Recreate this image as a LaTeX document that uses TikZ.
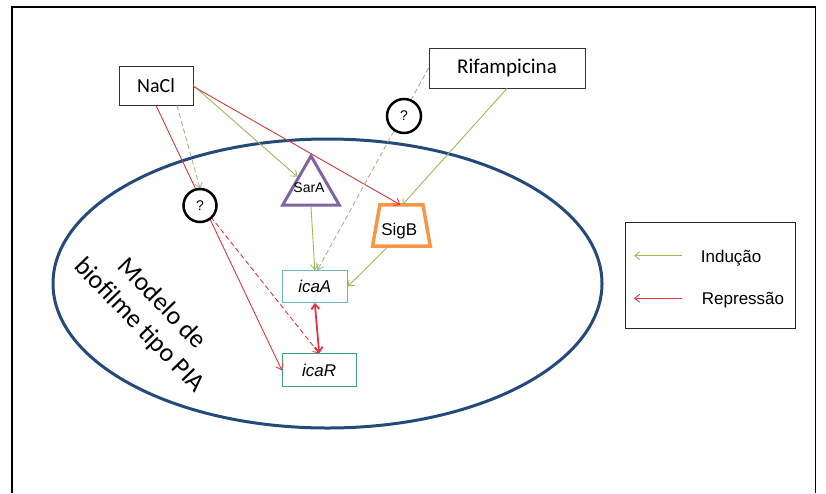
\documentclass[tikz,border=0pt]{standalone}
\usepackage{fontspec}
\setmainfont{Liberation Sans}
\newfontfamily\calfont{Carlito}
\usetikzlibrary{arrows.meta,shapes.geometric}
\definecolor{indc}{HTML}{9BBB59}
\definecolor{repc}{HTML}{E0353F}
\definecolor{cellc}{HTML}{254A7A}
\definecolor{sarc}{HTML}{8064A2}
\definecolor{sigc}{HTML}{F79646}
\definecolor{icaac}{HTML}{6DB5C0}
\definecolor{icarc}{HTML}{3FA27C}
\definecolor{dashg}{HTML}{A6B48E}
\begin{document}
\begin{tikzpicture}[x=1pt,y=-1pt,
  tipend/.style={-{Straight Barb[length=5pt,width=8pt]}},
  ind/.style={tipend, draw=indc, line width=0.9pt},
  rep/.style={tipend, draw=repc, line width=0.9pt},
  dashind/.style={tipend, draw=dashg, line width=0.9pt, dash pattern=on 5pt off 3pt},
  dashrep/.style={tipend, draw=repc, line width=0.9pt, dash pattern=on 5pt off 3pt},
  txtbox/.style={draw=black!80, line width=0.9pt, fill=white, inner sep=0pt},
  genebox/.style={line width=1pt, inner sep=0pt, font=\itshape\fontsize{17}{20}\selectfont},
  qmark/.style={circle, draw=black, line width=2.5pt, fill=white, inner sep=0pt, font=\fontsize{14}{16}\selectfont},
  plain/.style={inner sep=0pt}
]
\useasboundingbox (0,0) rectangle (826,493);
\draw[line width=1.8pt] (11.8,493) -- (11.8,6.7) -- (815.5,6.7) -- (815.5,493);

% cell
\node[ellipse, draw=cellc, line width=3pt, minimum width=549pt, minimum height=289pt, inner sep=0pt] (cell) at (327.5,283.5) {};
\node[rotate=-46, align=center, inner sep=0pt, font=\calfont\fontsize{26}{31}\selectfont] (modelo) at (150.3,315) {Modelo de\\biofilme tipo PIA};

% nodes
\node[txtbox, minimum width=74pt, minimum height=39pt, font=\calfont\fontsize{20}{24}\selectfont] (nacl) at (156,85.5) {NaCl};
\node[txtbox, minimum width=156pt, minimum height=40pt, font=\calfont\fontsize{21}{25}\selectfont] (rif) at (507,68) {Rifampicina};
\node[regular polygon, regular polygon sides=3, minimum size=65.4pt, inner sep=0pt, draw=sarc, line width=3pt] (sara) at (311,188.7) {};
\node[plain, font=\fontsize{14}{16}\selectfont] (saratext) at (309,188) {SarA};
\node[plain, minimum width=57.3pt, minimum height=41pt] (sigb) at (401.4,225.5) {};
\draw[sigc, line width=3.5pt, line join=miter] (sigb.south west) -- ([xshift=7.3pt]sigb.north west) -- ([xshift=-7.3pt]sigb.north east) -- (sigb.south east) -- cycle;
\node[plain, font=\fontsize{17}{20}\selectfont] (sigbtext) at (399.3,230.7) {SigB};
\node[genebox, draw=icaac, minimum width=65pt, minimum height=31.6pt] (icaa) at (314.8,286.5) {icaA};
\node[genebox, draw=icarc, minimum width=73.7pt, minimum height=32.7pt] (icar) at (319.2,370.3) {icaR};

% connectors
\draw[rep] (nacl.south) -- (icar.west);
\draw[dashind] ([xshift=21pt]nacl.south) -- (200,188.5);
\draw[ind] (nacl.east) -- (sara);
\draw[rep] ([yshift=-1pt]nacl.east) -- ([xshift=-1pt]sigb.north);
\draw[ind] (rif.south) -- ([xshift=1pt]sigb.north);
\draw[dashind] (rif.west) -- ([xshift=2.5pt]icaa.north);
\draw[ind] (sara.side 2) -- (icaa.north);
\draw[ind] ([xshift=-13pt]sigb.south) -- (icaa.east);
\draw[dashrep] (210.7,216.7) -- (icar.north);
\draw[draw=repc, line width=1.8pt, {Straight Barb[length=5pt,width=8pt]}-{Straight Barb[length=5pt,width=8pt]}] (icaa.south) -- (icar.north);

% question marks on top
\node[qmark, minimum size=33pt] (q1) at (200,205.5) {?};
\node[qmark, minimum size=34pt] (q2) at (404,116) {?};

% legend
\node[draw=black!85, line width=1pt, minimum width=170.7pt, minimum height=105.6pt, inner sep=0pt] (legend) at (710.35,275.5) {};
\coordinate (la1) at (681.7,255.7);
\coordinate (la2) at (634,255.7);
\coordinate (lb1) at (681.7,298.3);
\coordinate (lb2) at (634,298.3);
\draw[ind] (la1) -- (la2);
\draw[rep] (lb1) -- (lb2);
\node[plain, anchor=base west, font=\fontsize{17}{20}\selectfont] (indtxt) at (700.7,262.7) {Indução};
\node[plain, anchor=base west, font=\fontsize{17}{20}\selectfont] (reptxt) at (701.7,304.3) {Repressão};
\end{tikzpicture}
\end{document}
